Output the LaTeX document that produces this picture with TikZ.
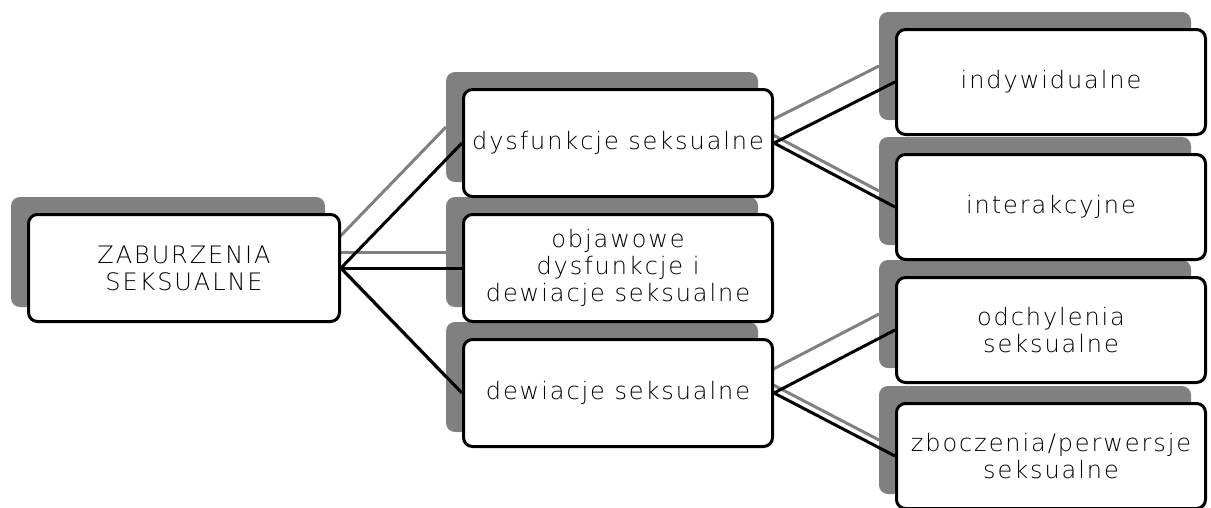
\documentclass[tikz,border=0pt]{standalone}
\usepackage{fontspec}
\newfontfamily\boxfont[LetterSpace=8]{DejaVu Sans ExtraLight}
\pgfdeclarelayer{shadow}
\pgfdeclarelayer{lines}
\pgfsetlayers{shadow,lines,main}
\definecolor{shadowgray}{RGB}{128,128,128}
\tikzset{
  box/.style={draw=black, line width=3pt, rounded corners=9pt, fill=white,
    align=center, inner sep=0pt, font=\boxfont\fontsize{24}{27}\selectfont},
  rootbox/.style={box, minimum width=311pt, minimum height=107pt},
  midbox/.style={box, minimum width=309pt, minimum height=107pt},
  leafbox/.style={box, minimum width=309pt, minimum height=105pt},
  shadowfill/.style={fill=shadowgray, rounded corners=9pt},
  shadowline/.style={draw=shadowgray, line width=3pt},
  link/.style={draw=black, line width=3pt},
}
\begin{document}
\begin{tikzpicture}[x=1pt,y=-1pt]
\useasboundingbox (0,0) rectangle (1211,507);
\node[rootbox] (root) at (184,268) {ZABURZENIA\\SEKSUALNE};
\node[midbox] (dys) at (618,143) {dysfunkcje seksualne};
\node[midbox] (obj) at (618,268) {objawowe\\dysfunkcje i\\dewiacje seksualne};
\node[midbox] (dew) at (618,393) {dewiacje seksualne};
\node[leafbox] (ind) at (1051,82) {indywidualne};
\node[leafbox] (int) at (1051,207) {interakcyjne};
\node[leafbox] (odc) at (1051,330) {odchylenia\\seksualne};
\node[leafbox] (zbo) at (1051,456) {zboczenia/perwersje\\seksualne};
\begin{pgfonlayer}{shadow}
  \foreach \n in {root,dys,obj,dew,ind,int,odc,zbo}
    \fill[shadowfill] ([shift={(-16,-16)}]\n.north west) rectangle ([shift={(-16,-16)}]\n.south east);
\end{pgfonlayer}
\begin{pgfonlayer}{lines}
  \foreach \a/\b in {root/dys,root/obj,root/dew,dys/ind,dys/int,dew/odc,dew/zbo}
    \draw[shadowline] ([shift={(-16,-16)}]\a.east) -- ([shift={(-16,-16)}]\b.west);
  \foreach \a/\b in {root/dys,root/obj,root/dew,dys/ind,dys/int,dew/odc,dew/zbo}
    \draw[link] (\a.east) -- (\b.west);
\end{pgfonlayer}
\end{tikzpicture}
\end{document}
